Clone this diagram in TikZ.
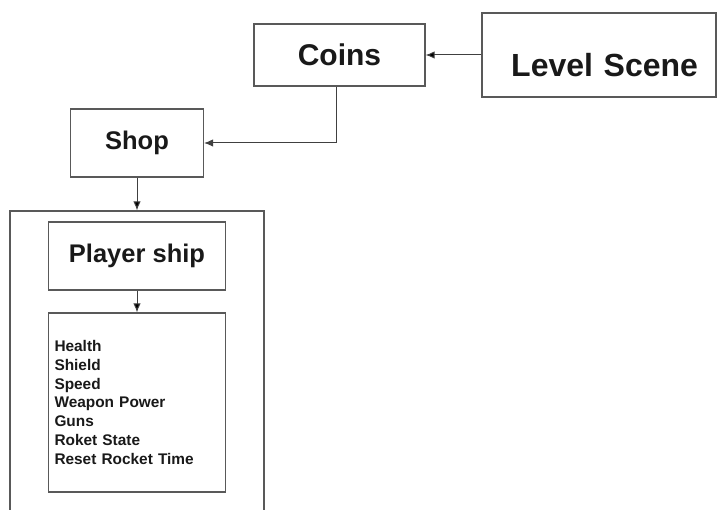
\documentclass[tikz,border=0pt]{standalone}
\usepackage{fontspec}
\setmainfont{Liberation Sans}
\usetikzlibrary{arrows.meta,positioning}

\begin{document}
\begin{tikzpicture}[node distance=2cm,on grid,auto]
      \tikzset{box/.style={draw=black!65,line width=1.2pt,rectangle,text=black!90,inner sep=0pt}}
      \tikzset{big/.style={box,font=\bfseries\fontsize{30}{36}\selectfont}}
      \tikzset{mid/.style={box,font=\bfseries\fontsize{25.5}{30}\selectfont}}
      \tikzset{arrow/.style={draw=black!75,line width=1pt,-{Latex[length=9pt,width=7.5pt]}}}

      \useasboundingbox (0,0) rectangle (717pt,510pt);

      \node[big,minimum width=171pt,minimum height=62pt] (coins) at (339.5pt,455pt) {Coins};
      \node[big,minimum width=234pt,minimum height=84pt,font=\bfseries\fontsize{32}{38}\selectfont,
            text width=198pt,align=right,text height=43pt,text depth=0pt] (level) [right = 259.5pt of coins] {Level Scene};
      \node[mid,minimum width=133pt,minimum height=68pt] (shop) [below left = 88pt and 202.5pt of coins] {Shop};
      \node[mid,minimum width=177pt,minimum height=68pt] (player) [below = 113pt of shop] {Player ship};
      \node[box,minimum width=177pt,minimum height=179pt,text width=165pt,align=left,
            font=\bfseries\fontsize{15.4}{18.8}\selectfont] (attrs) [below = 146.5pt of player]
            {Health\\Shield\\Speed\\Weapon Power\\Guns\\Roket State\\Reset Rocket Time};
      \node[box,minimum width=254pt,minimum height=330pt,anchor=north,yshift=11pt] (panel) at (player.north) {};

      \path[arrow]
      (level) edge (coins)
      (shop) edge (panel)
      (player) edge (attrs)
      ;
      \draw[arrow] ([xshift=-3pt]coins.south) |- (shop.east);
    \end{tikzpicture}
\end{document}
